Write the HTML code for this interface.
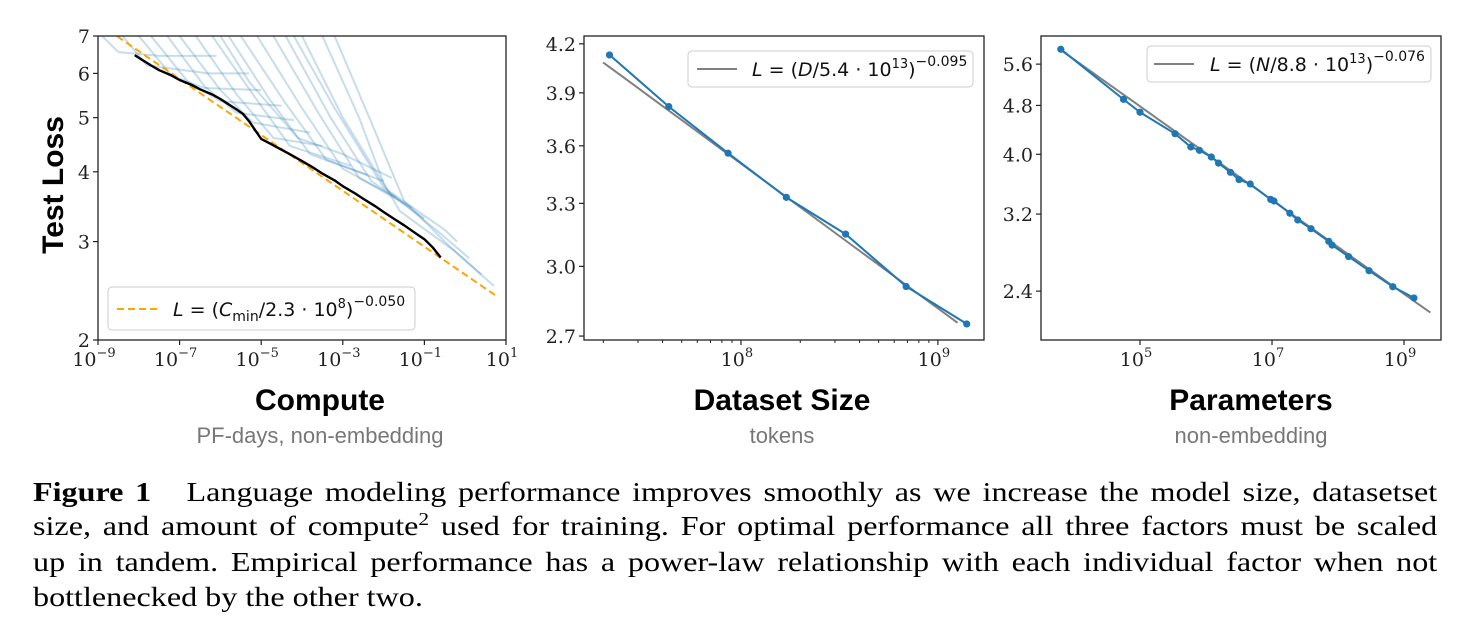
<!DOCTYPE html>
<html><head><meta charset="utf-8"><style>
html,body{margin:0;padding:0;background:#fff;width:1479px;height:636px;overflow:hidden;position:relative}
svg{display:block;position:absolute;left:0;top:0}
.tick{font-family:"DejaVu Serif","Liberation Serif",serif;font-size:19px;fill:#222}
.sup{font-size:13px}
.leg{font-family:"DejaVu Sans","Liberation Sans",sans-serif;font-size:19px;fill:#111}
.title{font-family:"Liberation Sans",sans-serif;font-weight:bold;font-size:30px;fill:#000}
.sub{font-family:"Liberation Sans",sans-serif;font-size:22px;fill:#777}
.cap{position:absolute;left:33px;width:1180px;transform:scaleX(1.19);transform-origin:0 0;font-family:"Liberation Serif",serif;font-size:27px;line-height:28px;color:#000;text-align:justify;text-align-last:justify;white-space:nowrap}
.cap.last{text-align-last:left}
</style></head><body>
<svg id="fig" width="1479" height="636" viewBox="0 0 1479 636"></svg>
<div>
<div class="cap" style="top:478px"><b>Figure 1</b>&nbsp;&nbsp; Language modeling performance improves smoothly as we increase the model size, datasetset</div>
<div class="cap" style="top:512px">size, and amount of compute<sup style="font-size:18px;line-height:0">2</sup> used for training. For optimal performance all three factors must be scaled</div>
<div class="cap" style="top:548px">up in tandem. Empirical performance has a power-law relationship with each individual factor when not</div>
<div class="cap last" style="top:583px">bottlenecked by the other two.</div>
</div>
<script>
// ---------- data ----------
const frontierLogC = [-8.1,-7.9,-7.7,-7.5,-7.2,-7,-6.7,-6.5,-6.2,-6,-5.8,-5.6,-5.45,-5.3,-5.15,-5,-4.8,-4.6,-4.3,-4,-3.7,-3.5,-3.2,-3,-2.7,-2.5,-2.2,-2,-1.7,-1.5,-1.2,-1,-0.8,-0.6];
const frontierLoss = [6.47,6.33,6.2,6.08,5.95,5.84,5.72,5.62,5.5,5.4,5.28,5.17,5.08,4.93,4.75,4.58,4.5,4.42,4.3,4.18,4.06,3.97,3.86,3.77,3.66,3.58,3.47,3.39,3.28,3.21,3.1,3.03,2.93,2.81];
const trainCurves = [
 [[-8.9,7],[-8.5,6.55],[-7.5,6.45],[-6.1,6.45]],
 [[-8.4,7],[-7.8,6.2],[-6.3,6.0],[-5.3,6.0]],
 [[-8.0,7],[-7.2,5.95],[-6.4,5.65],[-5.0,5.6]],
 [[-7.7,7],[-6.8,5.8],[-6.0,5.35],[-4.5,5.25]],
 [[-7.3,7],[-6.4,5.7],[-5.6,5.1],[-4.2,4.95]],
 [[-7.0,7],[-6.0,5.6],[-5.2,4.9],[-3.8,4.7]],
 [[-6.6,7],[-5.6,5.5],[-4.7,4.6],[-3.5,4.45]],
 [[-6.2,7],[-5.2,5.5],[-4.3,4.45],[-2.8,4.1]],
 [[-6.0,7],[-5.3,5.8],[-4.1,4.6],[-3.0,4.3],[-1.8,3.9]],
 [[-5.8,7],[-4.8,5.4],[-3.8,4.3],[-2.4,3.95]],
 [[-5.5,7],[-4.4,5.3],[-3.4,4.2],[-2.0,3.85]],
 [[-5.1,7],[-4.0,5.2],[-3.0,4.05],[-1.7,3.6]],
 [[-4.7,7],[-3.6,5.1],[-2.6,3.9],[-1.3,3.45]],
 [[-4.4,7],[-3.3,5.0],[-2.3,3.85],[-1.0,3.3]],
 [[-4.2,7],[-3.2,5.2],[-2.0,3.75],[-0.5,3.15],[-0.2,3.0]],
 [[-4.0,7],[-3.0,5.0],[-1.9,3.7],[-0.6,3.1],[0.1,2.8]],
 [[-3.5,7],[-2.6,5.0],[-2.0,3.82],[-1.6,3.4],[-0.3,2.9],[0.7,2.5]],
 [[-3.2,7],[-2.3,4.9],[-1.5,3.55],[-0.4,2.95],[0.4,2.62]]
];
const dataD = [2.15e7,4.3e7,8.6e7,1.7e8,3.4e8,6.9e8,1.4e9];
const dataLoss = [4.13,3.82,3.56,3.33,3.15,2.91,2.75];
const paramLogN = [3.80,4.75,5.0,5.53,5.77,5.90,6.08,6.19,6.37,6.50,6.67,6.98,7.03,7.27,7.39,7.59,7.86,7.91,8.16,8.47,8.83,9.15];
const paramLoss = [5.92,4.91,4.68,4.32,4.11,4.06,3.96,3.87,3.74,3.64,3.58,3.38,3.36,3.21,3.13,3.03,2.89,2.85,2.73,2.59,2.44,2.34];
const p1YTicks = [2,3,4,5,6,7];
const p1XTicks = [-9,-7,-5,-3,-1,1];
const p2YTicks = [2.7,3.0,3.3,3.6,3.9,4.2];
const p2XTicks = [8,9];
const p3YTicks = [2.4,3.2,4.0,4.8,5.6];
const p3XTicks = [5,7,9];

const NS = "http://www.w3.org/2000/svg";
const svg = document.getElementById('fig');
function el(tag, attrs, parent){ const e=document.createElementNS(NS,tag); for(const k in attrs) e.setAttribute(k,attrs[k]); (parent||svg).appendChild(e); return e; }
function logScale(d0,d1,r0,r1){ const a=Math.log(d0),b=Math.log(d1); return v=>r0+(Math.log(v)-a)/(b-a)*(r1-r0); }
function linScale(d0,d1,r0,r1){ return v=>r0+(v-d0)/(d1-d0)*(r1-r0); }

function frame(x0,y0,x1,y1,name){
  const r=el('rect',{x:x0,y:y0,width:x1-x0,height:y1-y0,fill:'none',stroke:'#222','stroke-width':1.3});
  
  
}
function yTick(x,y,label,name){
  el('line',{x1:x-5,y1:y,x2:x,y2:y,stroke:'#222','stroke-width':1.2});
  const t=el('text',{x:x-8,y:y+7,'text-anchor':'end',class:'tick'}); t.textContent=label;
  
  
}
function xTickPow(x,y,exp,name){
  el('line',{x1:x,y1:y,x2:x,y2:y+5,stroke:'#222','stroke-width':1.2});
  const t=el('text',{x:x-4,y:y+26,'text-anchor':'middle',class:'tick'});
  t.appendChild(document.createTextNode('10'));
  const s=el('tspan',{dy:-9,class:'sup'},t); s.textContent=(exp<0?'\u2212'+(-exp):String(exp));
  
  
}
function poly(pts,attrs,name){
  const p=el('polyline',Object.assign({points:pts.map(q=>q[0].toFixed(1)+','+q[1].toFixed(1)).join(' '),fill:'none'},attrs));
  
  
  return p;
}

// ---------- panel 1 ----------
{
  const X0=98,X1=506,Y0=36,Y1=340;
  const xs=linScale(-9,1,X0,X1), ys=logScale(2,7,Y1,Y0);
  const clip=el('clipPath',{id:'c1'}); el('rect',{x:X0,y:Y0,width:X1-X0,height:Y1-Y0},clip);
  const g=el('g',{'clip-path':'url(#c1)'});
  trainCurves.forEach((c,i)=>{
    const p=el('polyline',{points:c.map(q=>xs(q[0]).toFixed(1)+','+ys(q[1]).toFixed(1)).join(' '),fill:'none',stroke:'rgba(31,119,180,0.25)','stroke-width':2,'stroke-linejoin':'round'},g);
    
    
  });
  const fitPts=[]; for(let lc=-9.2;lc<=1.2;lc+=0.5){ fitPts.push([xs(lc), ys(Math.pow(Math.pow(10,lc)/2.3e8,-0.05))]); }
  const fl=el('polyline',{points:fitPts.map(q=>q[0].toFixed(1)+','+q[1].toFixed(1)).join(' '),fill:'none',stroke:'#ffa500','stroke-width':2,'stroke-dasharray':'7,4'},g);
  
  
  const fr=el('polyline',{points:frontierLogC.map((v,i)=>xs(v).toFixed(1)+','+ys(frontierLoss[i]).toFixed(1)).join(' '),fill:'none',stroke:'#000','stroke-width':2.4,'stroke-linejoin':'round'},g);
  
  
  frame(X0,Y0,X1,Y1,'compute-axes');
  p1YTicks.forEach(v=>yTick(X0,ys(v),String(v),'y-tick-label'));
  p1XTicks.forEach(v=>xTickPow(xs(v),Y1,v,'x-tick-label'));
  const lg=el('g',{});  
  el('rect',{x:108,y:287,width:307,height:43,rx:4,fill:'#fff',stroke:'#ccc'},lg);
  el('line',{x1:117,y1:309,x2:157,y2:309,stroke:'#ffa500','stroke-width':2,'stroke-dasharray':'7,4'},lg);
  const t=el('text',{x:173,y:316,class:'leg'},lg);
  t.innerHTML='<tspan font-style="italic">L</tspan> = (<tspan font-style="italic">C</tspan><tspan dy="5" font-size="14">min</tspan><tspan dy="-5">/2.3 · 10</tspan><tspan dy="-8" font-size="13">8</tspan><tspan dy="8">)</tspan><tspan dy="-10" font-size="14">−0.050</tspan>';
  const yl=el('text',{x:0,y:0,transform:'translate(63,185) rotate(-90)','text-anchor':'middle',class:'title','font-size':'27'});
  yl.textContent='Test Loss';
  
  
}

// ---------- panel 2 ----------
{
  const X0=584,X1=984,Y0=36,Y1=340;
  const xs=logScale(Math.pow(10,7.203),Math.pow(10,9.234),X0,X1), ys=logScale(2.684,4.25,Y1,Y0);
  const fit=[]; for(let lc=7.3;lc<=9.19;lc+=0.1){ const d=Math.pow(10,lc); fit.push([xs(d),ys(Math.pow(d/5.4e13,-0.095))]); }
  poly(fit,{stroke:'#808080','stroke-width':2},'dataset-fit-line');
  poly(dataD.map((d,i)=>[xs(d),ys(dataLoss[i])]),{stroke:'#1f77b4','stroke-width':2},'dataset-series-line');
  dataD.forEach((d,i)=>{ const c=el('circle',{cx:xs(d),cy:ys(dataLoss[i]),r:3.6,fill:'#1f77b4'});   });
  frame(X0,Y0,X1,Y1,'dataset-axes');
  p2YTicks.forEach(v=>yTick(X0,ys(v),v.toFixed(1),'y-tick-label'));
  for(let e=7;e<=9;e++) for(let m=2;m<=9;m++){ const v=m*Math.pow(10,e); const x=xs(v); if(x>X0&&x<X1) el('line',{x1:x,y1:Y1,x2:x,y2:Y1+3,stroke:'#222','stroke-width':1}); }
  p2XTicks.forEach(v=>xTickPow(xs(Math.pow(10,v)),Y1,v,'x-tick-label'));
  const lg=el('g',{});  
  el('rect',{x:688,y:51,width:285,height:36,rx:4,fill:'#fff',stroke:'#ccc'},lg);
  el('line',{x1:697,y1:69,x2:737,y2:69,stroke:'#808080','stroke-width':2},lg);
  const t=el('text',{x:752,y:76,class:'leg'},lg);
  t.innerHTML='<tspan font-style="italic">L</tspan> = (<tspan font-style="italic">D</tspan>/5.4 · 10<tspan dy="-8" font-size="13">13</tspan><tspan dy="8">)</tspan><tspan dy="-10" font-size="14">−0.095</tspan>';
}

// ---------- panel 3 ----------
{
  const X0=1041,X1=1441,Y0=36,Y1=340;
  const xs=linScale(3.5,9.56,X0,X1), ys=logScale(2.0,6.22,Y1,Y0);
  const fit=[]; for(let lc=3.8;lc<=9.46;lc+=0.1){ fit.push([xs(lc),ys(Math.pow(Math.pow(10,lc)/8.8e13,-0.076))]); }
  poly(fit,{stroke:'#808080','stroke-width':2},'parameters-fit-line');
  poly(paramLogN.map((n,i)=>[xs(n),ys(paramLoss[i])]),{stroke:'#1f77b4','stroke-width':2},'parameters-series-line');
  paramLogN.forEach((n,i)=>{ const c=el('circle',{cx:xs(n),cy:ys(paramLoss[i]),r:3.6,fill:'#1f77b4'});   });
  frame(X0,Y0,X1,Y1,'parameters-axes');
  p3YTicks.forEach(v=>yTick(X0,ys(v),v.toFixed(1),'y-tick-label'));
  p3XTicks.forEach(v=>xTickPow(xs(v),Y1,v,'x-tick-label'));
  const lg=el('g',{});  
  el('rect',{x:1147,y:46,width:284,height:36,rx:4,fill:'#fff',stroke:'#ccc'},lg);
  el('line',{x1:1154,y1:64,x2:1194,y2:64,stroke:'#808080','stroke-width':2},lg);
  const t=el('text',{x:1210,y:71,class:'leg'},lg);
  t.innerHTML='<tspan font-style="italic">L</tspan> = (<tspan font-style="italic">N</tspan>/8.8 · 10<tspan dy="-8" font-size="13">13</tspan><tspan dy="8">)</tspan><tspan dy="-10" font-size="14">−0.076</tspan>';
}

// ---------- titles ----------
[[320,'Compute','PF-days, non-embedding','compute'],[782,'Dataset Size','tokens','dataset'],[1251,'Parameters','non-embedding','parameters']].forEach(a=>{
  const t=el('text',{x:a[0],y:410,'text-anchor':'middle',class:'title'}); t.textContent=a[1];
   
  const s=el('text',{x:a[0],y:443,'text-anchor':'middle',class:'sub'}); s.textContent=a[2];
   
});
</script>
</body></html>
